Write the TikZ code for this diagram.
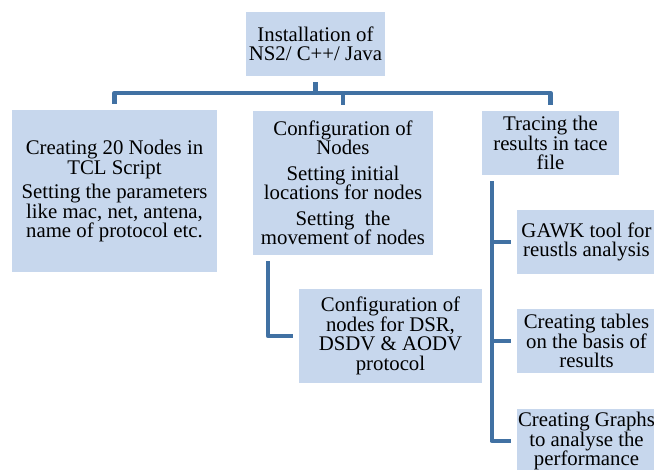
\documentclass[tikz,border=0pt]{standalone}
\usepackage{fontspec}
\setmainfont{Liberation Serif}
\usetikzlibrary{positioning}
\definecolor{boxblue}{RGB}{199,215,237}
\definecolor{linkblue}{RGB}{65,113,163}

\begin{document}
\begin{tikzpicture}[x=1pt,y=-1pt]
\tikzset{
    box/.style={
        rectangle, fill=boxblue, inner sep=0pt, align=center,
        font=\rmfamily\fontsize{20.8}{19.5}\selectfont
    },
    link/.style={
        draw=linkblue, line width=4.5pt, line join=round,
        shorten <=6pt, shorten >=6pt
    },
}
  \useasboundingbox (0,0) rectangle (654,470);
  \clip (0,0) rectangle (654,470);

  % top level
  \node[box, minimum width=139, minimum height=64] (install) at (315.5,44)
    {Installation of\\ NS2/ C++/ Java};

  % second level
  \node[box, minimum width=205, minimum height=162] (create) at (114.5,191)
    {Creating 20 Nodes in\\ TCL Script\\[5pt] Setting the parameters\\ like mac, net, antena,\\ name of protocol etc.};
  \node[box, minimum width=180, minimum height=144] (config) at (343,183)
    {Configuration of\\ Nodes\\[6pt] Setting initial\\ locations for nodes\\[6pt] Setting~ the\\ movement of nodes};
  \node[box, minimum width=137, minimum height=64] (trace) at (550.5,143)
    {Tracing the\\ results in tace\\ file};

  % third level
  \node[box, minimum width=183, minimum height=94] (proto) at (390.5,336)
    {Configuration of\\ nodes for DSR,\\ DSDV \& AODV\\ protocol};
  \node[box, minimum width=139, minimum height=64] (gawk) at (586.5,242)
    {GAWK tool for\\ reustls analysis};
  \node[box, minimum width=139, minimum height=64] (tables) at (586.5,341)
    {Creating tables\\ on the basis of\\ results};
  \node[box, minimum width=139, minimum height=64] (graphs) at (586.5,441)
    {Creating Graphs\\ to analyse the\\ performance};

  % connectors
  \draw[link, shorten >=0pt] (install.south) -- ++(0,18);
  \draw[link] (create.north) -- ++(0,-17) -| (trace.north);
  \draw[link, shorten >=0pt] (config.north) -- ++(0,-17);
  \draw[link] ([xshift=-75pt]config.south) |- (proto.west);

  \coordinate (trunk) at ([xshift=10pt]trace.south west);
  \foreach \leaf in {gawk,tables,graphs}
    \draw[link] (trunk) |- (\leaf.west);

\end{tikzpicture}
\end{document}
